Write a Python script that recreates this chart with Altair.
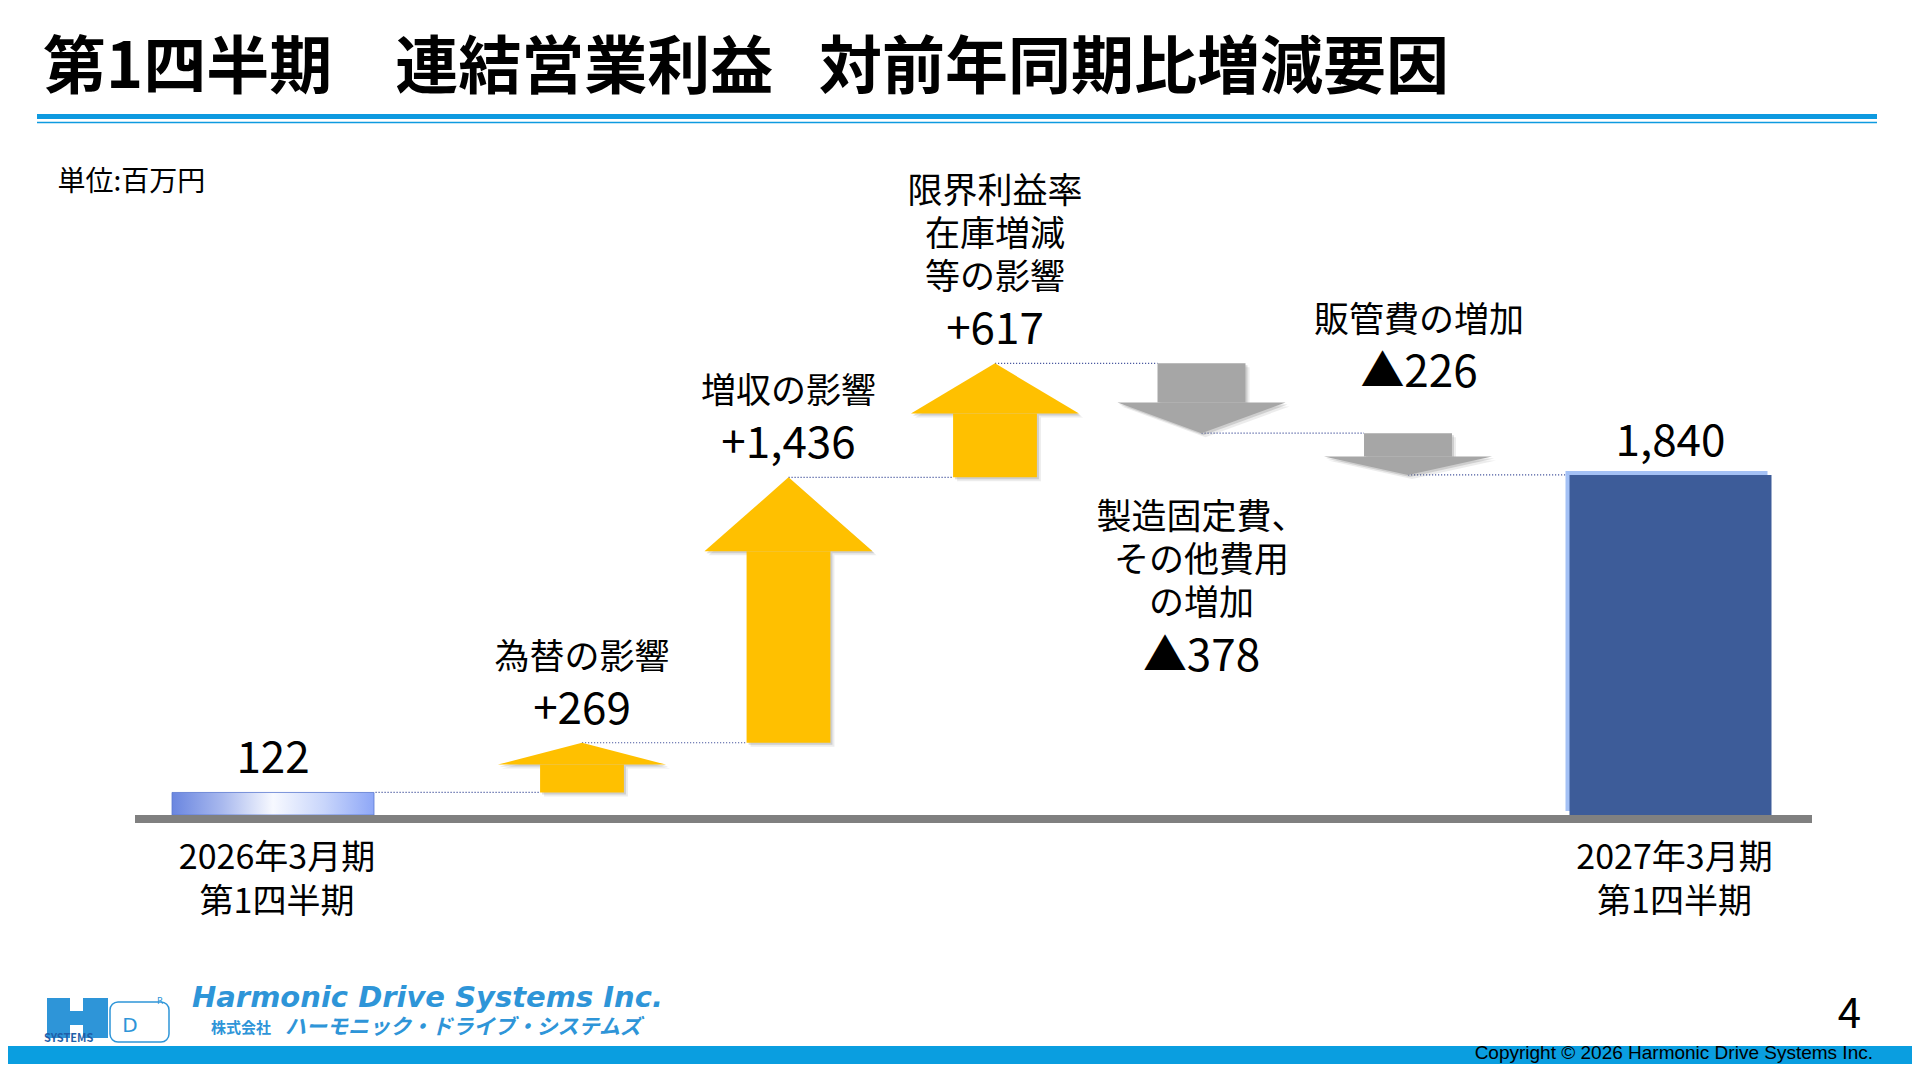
import altair as alt
import numpy as np
import pandas as pd

# ------------------------------------------------------------------ data
PERIODS = ["2026年3月期\n第1四半期", "2027年3月期\n第1四半期"]
PERIOD_VALUES = [122, 1840]
FACTORS = ["為替の影響", "増収の影響", "限界利益率\n在庫増減\n等の影響",
           "製造固定費、\nその他費用\nの増加", "販管費の増加"]
FACTOR_DELTAS = [269, 1436, 617, -378, -226]
FACTOR_LABEL_SIDE = ["above", "above", "above", "below", "above"]

TITLE = "第1四半期　連結営業利益\u2002 対前年同期比増減要因"
UNIT_LABEL = "単位:百万円"
PAGE_NO = "4"
COPYRIGHT = "Copyright © 2026 Harmonic Drive Systems Inc."
LOGO_EN = "Harmonic Drive Systems Inc."
LOGO_JP_SMALL = "株式会社"
LOGO_JP = "ハーモニック・ドライブ・システムズ"
LOGO_SYS = "SYSTEMS"

# ------------------------------------------------------------------ layout / style
W, H = 1904, 1056
Y_DOMAIN = [0, 2500]
Y_RANGE = [807, 345]
PX_PER_UNIT = (Y_RANGE[0] - Y_RANGE[1]) / (Y_DOMAIN[1] - Y_DOMAIN[0])
BAR_X_RANGE = [265, 1662.5]
STEP_X_RANGE = [574, 1400]
BAR_WIDTH = 202
HEAD_HALF = 0.407                     # arrow head half width, in step units
BODY_HALF = {"up": 0.203, "down": 0.213}
HEAD_WIDTH_PX = 168
HEAD_RATIO = 0.44
LINE_H = 43
NAME_SIZE = 35
NUM_SIZE = 44

FONT = "Liberation Sans Narrow, Noto Sans CJK JP, sans-serif"
JP_FONT = "Noto Sans CJK JP, sans-serif"
UP_COLOR = "#FFC000"
DOWN_COLOR = "#A6A6A6"
BAR_COLOR = "#3D5C99"
BAR_HIGHLIGHT = "#A4C1F5"
RULE_BLUE = "#0E9AE0"
BAND_BLUE = "#0A9EE0"
AXIS_GRAY = "#808080"
CONNECTOR = "#4B5AA0"
LOGO_BLUE = "#2E95D8"

LABEL_DY = {"tip": {"num": -32, "name": -85},
            "top": {"num": -59, "name": -112},
            "below": {"name": 85, "gap": 54}}
LABEL_DX = {"tip": 0, "top": 11, "below": 0}

# ------------------------------------------------------------------ derived tables
n_f = len(FACTORS)
deltas = np.array(FACTOR_DELTAS)
starts = PERIOD_VALUES[0] + np.concatenate([[0], np.cumsum(deltas)[:-1]])
ends = starts + deltas
dirs = np.where(deltas > 0, "up", "down")
head_len = HEAD_RATIO * np.minimum(HEAD_WIDTH_PX, np.abs(deltas) * PX_PER_UNIT) / PX_PER_UNIT
wings = ends - np.sign(deltas) * head_len


def fmt(d):
    return f"+{d:,}" if d > 0 else f"▲{-d:,}"


steps = pd.DataFrame({
    "idx": np.arange(n_f), "factor": FACTORS, "start": starts, "end": ends,
    "wing": wings, "dir": dirs, "value_label": [fmt(d) for d in FACTOR_DELTAS],
    "side": FACTOR_LABEL_SIDE, "nlines": [f.count("\n") + 1 for f in FACTORS],
})
steps["x0"] = steps["idx"] - steps["dir"].map(BODY_HALF)
steps["x1"] = steps["idx"] + steps["dir"].map(BODY_HALF)
steps["anchor"] = np.where(steps["dir"] == "up", steps["end"],
                           np.where(steps["side"] == "above", steps["start"], steps["end"]))
steps["place"] = np.where(steps["dir"] == "up", "tip",
                          np.where(steps["side"] == "above", "top", "below"))

heads = pd.DataFrame([
    {"idx": r.idx, "dir": r.dir, "hx": r.idx + s * HEAD_HALF,
     "hy": r.end if s == 0 else r.wing, "wing": r.wing}
    for r in steps.itertuples() for s in (-1, 0, 1)
])

conns = pd.DataFrame({
    "x_from": np.arange(n_f + 1) - 1,
    "x_to": list(steps["x0"]) + [n_f - BODY_HALF["down"]],
    "level": list(starts) + [ends[-1]],
})

bars_df = pd.DataFrame({"period": PERIODS, "value": PERIOD_VALUES,
                        "label": [f"{v:,}" for v in PERIOD_VALUES],
                        "kind": ["start", "end"]})

# ------------------------------------------------------------------ scales
ys = alt.Scale(domain=Y_DOMAIN, range=Y_RANGE, nice=False, zero=False)
step_x = alt.Scale(domain=[0, n_f - 1], range=STEP_X_RANGE, nice=False, zero=False)
bar_x = alt.Scale(type="point", domain=PERIODS, range=BAR_X_RANGE, padding=0)
dir_color = alt.Scale(domain=["up", "down"], range=[UP_COLOR, DOWN_COLOR])


def SX(f):
    return alt.X(f, type="quantitative", scale=step_x, axis=None)


def SY(f):
    return alt.Y(f, type="quantitative", scale=ys, axis=None)


BX = alt.X("period:N", scale=bar_x, axis=None)

# ------------------------------------------------------------------ decoration
one = pd.DataFrame({"k": [0]})


def deco_text(text, x, y, size, font=JP_FONT, align="left", color="#000000",
              weight="normal", style="normal"):
    return alt.Chart(one).mark_text(
        text=text, font=font, fontSize=size, align=align, baseline="middle",
        color=color, fontWeight=weight, fontStyle=style,
    ).encode(x=alt.value(x), y=alt.value(y))


def deco_rect(x, x2, y, y2, color):
    return alt.Chart(one).mark_rect(color=color).encode(
        x=alt.value(x), x2=alt.value(x2), y=alt.value(y), y2=alt.value(y2))


deco = [
    deco_text(TITLE, 35, 61, 63, font=FONT, weight="bold"),
    deco_rect(29, 1869, 106, 111, RULE_BLUE),
    deco_rect(29, 1869, 113.7, 115.3, RULE_BLUE),
    deco_text(UNIT_LABEL, 49.5, 175, 28),
    deco_rect(0, W, 1038, H, BAND_BLUE),
    deco_text(COPYRIGHT, 1865, 1045, 19, font="Liberation Sans, Arial, sans-serif",
              align="right"),
    deco_text(PAGE_NO, 1841.5, 1007, 42, font=FONT, align="center"),
    # logo
    deco_rect(39, 62, 990, 1030, LOGO_BLUE),
    deco_rect(75, 100, 990, 1030, LOGO_BLUE),
    deco_rect(39, 100, 1003, 1017, LOGO_BLUE),
    alt.Chart(one).mark_rect(fillOpacity=0, stroke=LOGO_BLUE, strokeWidth=1.5,
                             cornerRadius=8).encode(
        x=alt.value(102), x2=alt.value(161), y=alt.value(994), y2=alt.value(1034)),
    deco_text("D", 122, 1018, 20, font="DejaVu Sans, sans-serif", align="center",
              color=LOGO_BLUE),
    deco_text("R", 152, 993, 9, font="DejaVu Sans, sans-serif", align="center",
              color=LOGO_BLUE),
    deco_text(LOGO_SYS, 36, 1031, 11, font=FONT, color="#1F5FA8", weight="bold"),
    deco_text(LOGO_EN, 184, 990, 29, font="DejaVu Sans, sans-serif", color=LOGO_BLUE,
              weight="bold", style="italic"),
    deco_text(LOGO_JP_SMALL, 203, 1020, 15, color=LOGO_BLUE, weight="bold"),
    deco_text(LOGO_JP, 277, 1020, 21, color=LOGO_BLUE, weight="bold", style="italic"),
]

# ------------------------------------------------------------------ arrows
connectors = alt.Chart(conns).mark_rule(
    color=CONNECTOR, strokeWidth=1.2, strokeDash=[1.2, 1.8]
).encode(x=SX("x_from"), x2="x_to:Q", y=SY("level"))

shadows = []
for off, op in ((4, 0.12), (2, 0.22)):
    shadows.append(alt.Chart(steps).mark_rect(
        color="#666666", opacity=op, xOffset=off, x2Offset=off, yOffset=off, y2Offset=off
    ).encode(x=SX("x0"), x2="x1:Q", y=SY("start"), y2="wing:Q"))
    shadows.append(alt.Chart(heads).mark_area(
        orient="vertical", color="#666666", opacity=op,
        xOffset=off, yOffset=off, y2Offset=off
    ).encode(x=SX("hx"), y=SY("hy"), y2="wing:Q", detail="idx:N"))

bodies = alt.Chart(steps).mark_rect().encode(
    x=SX("x0"), x2="x1:Q", y=SY("start"), y2="wing:Q",
    color=alt.Color("dir:N", scale=dir_color, legend=None))

arrow_heads = alt.Chart(heads).mark_area(orient="vertical").encode(
    x=SX("hx"), y=SY("hy"), y2="wing:Q", detail="idx:N",
    color=alt.Color("dir:N", scale=dir_color, legend=None))

labels = []
for place in ("tip", "top", "below"):
    sub = steps[steps["place"] == place]
    for n, g in sub.groupby("nlines"):
        if place == "below":
            name_dy = LABEL_DY["below"]["name"]
            num_dy = name_dy + (n - 1) * LINE_H + LABEL_DY["below"]["gap"]
        else:
            name_dy = LABEL_DY[place]["name"] - (n - 1) * LINE_H
            num_dy = LABEL_DY[place]["num"]
        dx = LABEL_DX[place]
        labels.append(alt.Chart(g).mark_text(
            font=FONT, fontSize=NAME_SIZE, dy=name_dy, dx=dx, lineBreak="\n",
            lineHeight=LINE_H, baseline="middle", align="center", color="#000000"
        ).encode(x=SX("idx"), y=SY("anchor"), text="factor:N"))
        labels.append(alt.Chart(g).mark_text(
            font=FONT, fontSize=NUM_SIZE, dy=num_dy, dx=dx, baseline="middle",
            align="center", color="#000000"
        ).encode(x=SX("idx"), y=SY("anchor"), text="value_label:N"))

# ------------------------------------------------------------------ bars
gradient = alt.LinearGradient(
    gradient="linear", x1=0, x2=1, y1=0, y2=0,
    stops=[alt.GradientStop(offset=0, color="#6A86E0"),
           alt.GradientStop(offset=0.25, color="#A9B9EE"),
           alt.GradientStop(offset=0.5, color="#F7F9FF"),
           alt.GradientStop(offset=0.75, color="#C9D6FB"),
           alt.GradientStop(offset=1, color="#8EA7F7")])

end_df = bars_df[bars_df["kind"] == "end"]
start_df = bars_df[bars_df["kind"] == "start"]

bar_layers = [
    alt.Chart(end_df).mark_bar(width=BAR_WIDTH, color=BAR_HIGHLIGHT, xOffset=-4,
                               yOffset=-4).encode(x=BX, y=SY("value")),
    alt.Chart(end_df).mark_bar(width=BAR_WIDTH, color=BAR_COLOR).encode(
        x=BX, y=SY("value")),
    alt.Chart(start_df).mark_bar(width=BAR_WIDTH, color=gradient, stroke="#5A78D0",
                                 strokeWidth=0.8).encode(x=BX, y=SY("value")),
    alt.Chart(one).mark_rule(color=AXIS_GRAY, strokeWidth=8, yOffset=4).encode(
        y=alt.YDatum(0, type="quantitative", scale=ys, axis=None),
        x=alt.value(127), x2=alt.value(1804)),
    alt.Chart(bars_df).mark_text(font=FONT, fontSize=NUM_SIZE, dy=-32, baseline="middle",
                                 align="center", color="#000000").encode(
        x=BX, y=SY("value"), text="label:N"),
    alt.Chart(bars_df).mark_text(font=FONT, fontSize=34, dy=44, dx=4, lineBreak="\n",
                                 lineHeight=44, baseline="middle", align="center",
                                 color="#000000").encode(
        x=BX, y=alt.YDatum(0, type="quantitative", scale=ys, axis=None),
        text="period:N"),
]

chart = alt.layer(
    *deco, connectors, *shadows, bodies, arrow_heads, *bar_layers, *labels
).resolve_scale(x="independent").properties(
    width=W, height=H, padding=0, background="white",
    autosize=alt.AutoSizeParams(type="none"),
).configure_view(stroke=None)

chart.save("out.html", embed_options={"renderer": "svg", "actions": False})
